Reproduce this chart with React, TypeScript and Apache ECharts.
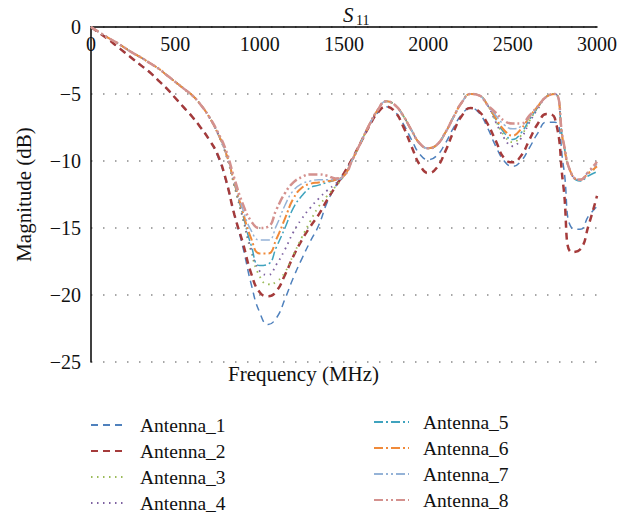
import React, { useEffect, useRef } from "react";
import * as echarts from "echarts";

const frequencies = [
  0, 50, 100, 150, 200, 250, 300, 350, 400, 450,
  500, 550, 600, 650, 700, 750, 800, 850, 900, 950,
  1000, 1050, 1100, 1150, 1200, 1250, 1300, 1350, 1400, 1450,
  1500, 1550, 1600, 1650, 1700, 1750, 1800, 1850, 1900, 1950,
  2000, 2050, 2100, 2150, 2200, 2250, 2300, 2350, 2400, 2450,
  2500, 2550, 2600, 2650, 2700, 2750, 2800, 2850, 2900, 2950,
  3000,
];

const antenna1 = [
  0, -0.45, -0.9, -1.4, -1.9, -2.4, -2.9, -3.4, -4.0, -4.6,
  -5.3, -6.0, -6.7, -7.5, -8.4, -9.6, -11.5, -14.0, -16.4, -19.2,
  -21.3, -22.2, -21.7, -20.3, -18.7, -17.3, -16.0, -14.8, -13.1, -11.9,
  -10.9, -9.8, -8.6, -7.4, -6.4, -5.95, -6.3, -7.2, -8.4, -9.5,
  -9.9, -9.6, -8.7, -7.5, -6.5, -6.05, -6.4, -7.5, -8.9, -10.0,
  -10.4, -10.0, -9.0, -7.9, -7.1, -7.1, -10.3, -15.0, -15.1, -14.1,
  -13.4,
];

const antenna2 = [
  0, -0.45, -0.9, -1.4, -1.9, -2.4, -2.9, -3.4, -4.0, -4.6,
  -5.3, -6.0, -6.7, -7.5, -8.4, -9.5, -11.4, -14.0, -16.1, -18.4,
  -19.8, -20.1, -19.7, -18.5, -17.1, -15.9, -14.9, -14.0, -12.9, -11.9,
  -10.9, -9.8, -8.6, -7.4, -6.4, -5.95, -6.3, -7.4, -8.9, -10.3,
  -10.9, -10.5, -9.3, -7.8, -6.6, -6.05, -6.3, -7.2, -8.5, -9.8,
  -10.1, -9.6, -8.4, -7.2, -6.5, -6.8, -11.8, -16.8, -16.6, -14.8,
  -12.6,
];

const antenna3 = [
  0, -0.4, -0.8, -1.15, -1.55, -1.95, -2.3, -2.7, -3.1, -3.6,
  -4.1, -4.6, -5.1, -5.8, -6.7, -7.9, -9.5, -11.9, -14.3, -16.8,
  -18.6, -19.2, -19.0, -18.3, -17.0, -15.7, -14.5, -13.4, -12.6, -11.9,
  -11.1, -9.9, -8.6, -7.3, -6.2, -5.55, -5.8, -6.6, -7.7, -8.7,
  -9.05, -8.8, -7.9, -6.7, -5.6, -5.0, -5.1, -5.8, -7.0, -8.1,
  -8.6, -8.1, -7.0, -6.0, -5.2, -5.0, -8.6, -11.0, -11.4, -10.9,
  -10.5,
];

const antenna4 = [
  0, -0.4, -0.8, -1.15, -1.55, -1.95, -2.3, -2.7, -3.1, -3.6,
  -4.1, -4.6, -5.1, -5.8, -6.7, -7.9, -9.5, -11.8, -14.2, -16.6,
  -18.2, -18.5, -17.7, -16.6, -15.3, -14.3, -13.5, -12.8, -12.2, -11.7,
  -11.1, -9.9, -8.6, -7.3, -6.2, -5.55, -5.8, -6.6, -7.7, -8.7,
  -9.05, -8.8, -7.9, -6.7, -5.6, -5.0, -5.1, -5.8, -7.1, -8.3,
  -8.9, -8.3, -7.1, -6.1, -5.2, -5.0, -8.6, -11.0, -11.4, -10.8,
  -10.3,
];

const antenna5 = [
  0, -0.4, -0.8, -1.15, -1.55, -1.95, -2.3, -2.7, -3.1, -3.6,
  -4.1, -4.6, -5.1, -5.8, -6.7, -7.9, -9.4, -11.7, -14.0, -16.3,
  -17.8, -17.7, -16.4, -15.0, -13.5, -12.6, -12.0, -11.8, -11.6, -11.4,
  -11.1, -9.9, -8.6, -7.3, -6.2, -5.55, -5.8, -6.6, -7.7, -8.7,
  -9.05, -8.8, -7.9, -6.7, -5.6, -5.0, -5.1, -5.8, -6.9, -7.9,
  -8.4, -7.9, -6.9, -6.0, -5.2, -5.0, -8.6, -11.0, -11.5, -11.1,
  -10.8,
];

const antenna6 = [
  0, -0.4, -0.8, -1.15, -1.55, -1.95, -2.3, -2.7, -3.1, -3.6,
  -4.1, -4.6, -5.1, -5.8, -6.7, -7.9, -9.4, -11.6, -13.8, -15.8,
  -16.9, -16.9, -15.8, -14.3, -12.8, -12.0, -11.7, -11.6, -11.5, -11.4,
  -11.1, -9.9, -8.6, -7.3, -6.2, -5.55, -5.8, -6.6, -7.7, -8.7,
  -9.05, -8.8, -7.9, -6.7, -5.6, -5.0, -5.1, -5.8, -6.8, -7.7,
  -8.1, -7.6, -6.7, -5.9, -5.2, -5.0, -8.6, -11.0, -11.4, -10.9,
  -10.4,
];

const antenna7 = [
  0, -0.4, -0.8, -1.15, -1.55, -1.95, -2.3, -2.7, -3.1, -3.6,
  -4.1, -4.6, -5.1, -5.8, -6.7, -7.9, -9.4, -11.5, -13.6, -15.2,
  -15.9, -15.9, -14.8, -13.3, -12.2, -11.7, -11.5, -11.4, -11.4, -11.4,
  -11.1, -9.9, -8.6, -7.3, -6.2, -5.55, -5.8, -6.6, -7.7, -8.7,
  -9.05, -8.8, -7.9, -6.7, -5.6, -5.0, -5.1, -5.8, -6.6, -7.3,
  -7.6, -7.4, -6.7, -5.9, -5.2, -5.0, -8.5, -11.0, -11.4, -10.8,
  -10.2,
];

const antenna8 = [
  0, -0.4, -0.8, -1.15, -1.55, -1.95, -2.3, -2.7, -3.1, -3.6,
  -4.1, -4.6, -5.1, -5.8, -6.7, -7.8, -9.2, -11.3, -13.2, -14.5,
  -15.0, -14.9, -13.6, -12.4, -11.6, -11.2, -11.0, -11.0, -11.1, -11.3,
  -11.1, -9.9, -8.6, -7.3, -6.2, -5.55, -5.8, -6.6, -7.7, -8.7,
  -9.05, -8.8, -7.9, -6.7, -5.6, -5.0, -5.1, -5.8, -6.4, -7.0,
  -7.2, -7.2, -6.6, -5.9, -5.2, -5.0, -8.5, -11.0, -11.4, -10.8,
  -10.05,
];

const seriesNames = [
  "Antenna_1", "Antenna_2", "Antenna_3", "Antenna_4",
  "Antenna_5", "Antenna_6", "Antenna_7", "Antenna_8",
];
const seriesValues = [antenna1, antenna2, antenna3, antenna4, antenna5, antenna6, antenna7, antenna8];

const xTicks = [0, 500, 1000, 1500, 2000, 2500, 3000];
const yTicks = [0, -5, -10, -15, -20, -25];

// styles (not data)
const lineStyles = [
  { color: "#4F81BD", width: 1.5, type: [7, 5] },
  { color: "#A53B3B", width: 2.5, type: [7, 5] },
  { color: "#9BBB59", width: 1.8, type: [1.5, 4.5] },
  { color: "#7E62A1", width: 1.8, type: [1.5, 4.5] },
  { color: "#3FA3BE", width: 1.5, type: [9, 3, 2, 3] },
  { color: "#F08A3A", width: 2, type: [9, 3, 2, 3] },
  { color: "#95B3D7", width: 1.5, type: [9, 3, 2, 3, 2, 3] },
  { color: "#D4918E", width: 2.5, type: [9, 3, 2, 3, 2, 3] },
];

const FONT = "Liberation Serif";

export default function App() {
  const ref = useRef<HTMLDivElement>(null);

  useEffect(() => {
    if (!ref.current) return;
    const chart = echarts.init(ref.current, null, { renderer: "svg" });
    const legendBase = {
      orient: "vertical",
      padding: 0,
      itemWidth: 35,
      itemHeight: 14,
      itemGap: 6,
      itemStyle: { opacity: 0, color: "rgba(0,0,0,0)", borderWidth: 0 },
      textStyle: {
        fontSize: 19.5,
        color: "#111",
        fontFamily: FONT,
        padding: [0, 0, 0, 9],
      },
    };
    chart.setOption({
      animation: false,
      backgroundColor: "#ffffff",
      textStyle: { fontFamily: FONT },
      grid: { left: 91, right: 19, top: 27, bottom: 154, containLabel: false },
      xAxis: {
        type: "value",
        position: "top",
        min: xTicks[0],
        max: xTicks[xTicks.length - 1],
        interval: xTicks[1] - xTicks[0],
        axisLine: { show: true, onZero: false, lineStyle: { color: "#000", width: 1.5 } },
        axisTick: { show: false },
        splitLine: { show: false },
        axisLabel: {
          inside: true,
          margin: 7,
          color: "#111",
          fontSize: 20,
          fontFamily: FONT,
          showMaxLabel: true,
          showMinLabel: true,
          formatter: (v: number) => String(v),
        },
      },
      yAxis: {
        type: "value",
        min: yTicks[yTicks.length - 1],
        max: yTicks[0],
        interval: 5,
        axisLine: { show: true, onZero: false, lineStyle: { color: "#000", width: 1.5 } },
        axisTick: { show: false },
        splitLine: { show: true, lineStyle: { color: "#8a8a8a", width: 1.5, type: [1.5, 10.5] } },
        axisLabel: {
          margin: 10,
          color: "#111",
          fontSize: 20,
          fontFamily: FONT,
          formatter: (v: number) => (v === 0 ? "0" : "\u2212" + Math.abs(v)),
        },
        name: "Magnitude (dB)",
        nameLocation: "middle",
        nameGap: 57,
        nameTextStyle: { fontSize: 21, color: "#111", fontFamily: FONT },
      },
      legend: [
        { ...legendBase, data: seriesNames.slice(0, 4), left: 90, top: 415 },
        { ...legendBase, data: seriesNames.slice(4), left: 373, top: 412 },
      ],
      graphic: [
        {
          type: "text",
          left: 343,
          top: 4,
          style: { text: "S", fontSize: 21, fontStyle: "italic", fontFamily: FONT, fill: "#111" },
        },
        {
          type: "text",
          left: 356,
          top: 13,
          style: { text: "11", fontSize: 14, fontFamily: FONT, fill: "#111" },
        },
        {
          type: "text",
          left: 228,
          top: 363,
          style: { text: "Frequency (MHz)", fontSize: 21, fontFamily: FONT, fill: "#111" },
        },
      ],
      series: seriesNames.map((name, i) => ({
        name,
        type: "line",
        data: frequencies.map((f, j) => [f, seriesValues[i][j]]),
        symbol: "none",
        smooth: 0.5,
        lineStyle: lineStyles[i],
        itemStyle: { color: lineStyles[i].color },
        z: 2 + i,
      })),
    });
    return () => chart.dispose();
  }, []);

  return (
    <div
      ref={ref}
      style={{ position: "fixed", left: 0, top: 0, width: 620, height: 516 }}
    />
  );
}
